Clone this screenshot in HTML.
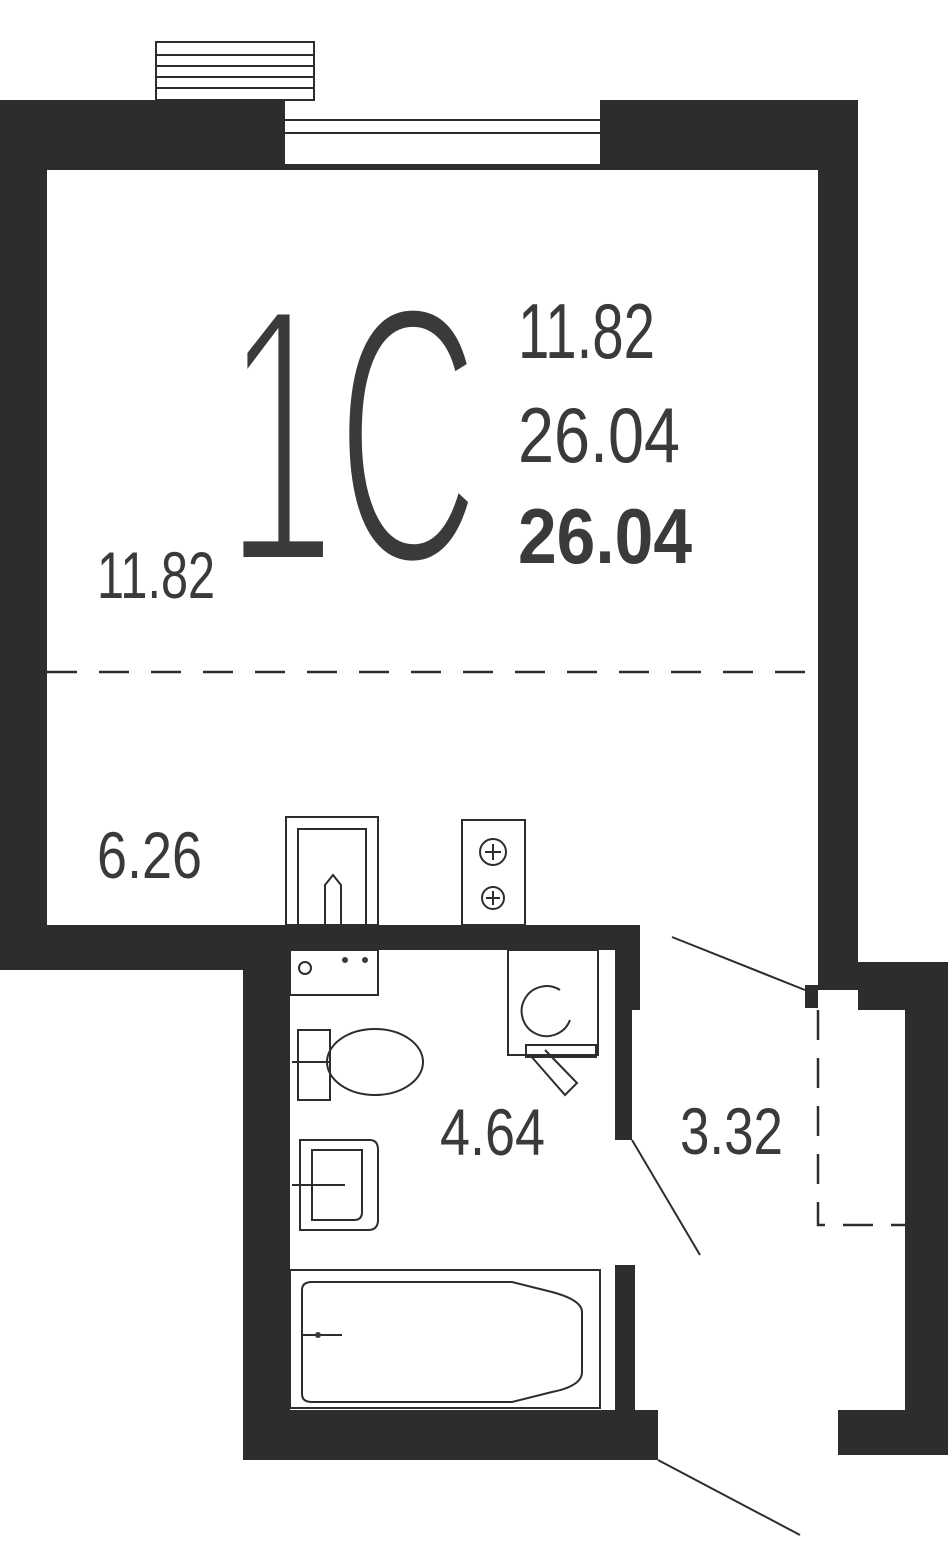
<!DOCTYPE html>
<html><head><meta charset="utf-8"><style>
html,body{margin:0;padding:0;background:#fff;}
svg{display:block}
text{font-family:"Liberation Sans Narrow","Liberation Sans",sans-serif;fill:#3a3a3c}
</style></head><body>
<svg width="950" height="1561" viewBox="0 0 950 1561" xmlns="http://www.w3.org/2000/svg">
<g fill="#2d2d2f">
<rect x="0" y="100" width="858" height="70"/>
<rect x="0" y="100" width="47" height="870"/>
<rect x="0" y="925" width="290" height="45"/>
<rect x="243" y="925" width="397" height="25"/>
<rect x="818" y="100" width="40" height="890"/>
<rect x="858" y="962" width="90" height="48"/>
<rect x="905" y="962" width="43" height="490"/>
<rect x="838" y="1410" width="110" height="45"/>
<rect x="243" y="925" width="47" height="535"/>
<rect x="243" y="1410" width="415" height="50"/>
<rect x="615" y="925" width="25" height="85"/>
<rect x="615" y="1005" width="17" height="135"/>
<rect x="615" y="1265" width="20" height="145"/>
<rect x="805" y="985" width="13" height="23"/>
</g>
<rect x="285" y="100" width="315" height="66" fill="#fff"/>
<g stroke="#2d2d2f" stroke-width="2" fill="none">
<line x1="285" y1="120" x2="600" y2="120"/>
<line x1="285" y1="133" x2="600" y2="133"/>
<line x1="285" y1="165" x2="600" y2="165"/>
<rect x="156" y="42" width="158" height="58"/>
<line x1="156" y1="55" x2="314" y2="55"/><line x1="156" y1="66" x2="314" y2="66"/>
<line x1="156" y1="77" x2="314" y2="77"/><line x1="156" y1="88" x2="314" y2="88"/>
<line x1="47" y1="672" x2="818" y2="672" stroke-dasharray="30,22" stroke-width="2.5"/>
<path d="M818 1010 V1225 H905" stroke-dasharray="30,18" stroke-width="2.5"/>
<line x1="672" y1="937" x2="805" y2="990"/>
<line x1="632" y1="1140" x2="700" y2="1255"/>
<line x1="658" y1="1460" x2="800" y2="1535"/>
<rect x="286" y="817" width="92" height="108"/>
<rect x="298" y="829" width="68" height="96"/>
<path d="M325 925 V885 L333 875 L341 885 V925"/>
<rect x="462" y="820" width="63" height="105"/>
<circle cx="493" cy="852" r="13"/><circle cx="493" cy="898" r="11"/>
<path d="M485 852h16M493 844v16M486 898h14M493 891v14"/>
<rect x="290" y="950" width="88" height="45"/>
<circle cx="305" cy="968" r="6"/>
<rect x="508" y="950" width="90" height="105"/>
<path d="M560 990 A25 25 0 1 0 570 1020"/>
<path d="M526 1045h70v12h-70z"/>
<path d="M530 1055 L565 1095 L577 1083 L545 1050"/>
<path d="M298 1030 h32 v70 h-32z"/>
<ellipse cx="375" cy="1062" rx="48" ry="33"/>
<line x1="292" y1="1062" x2="330" y2="1062"/>
<path d="M300 1140 h70 q8 0 8 10 v70 q0 10 -10 10 h-68z"/>
<path d="M312 1150 h50 v62 q0 8 -8 8 h-42z"/>
<line x1="292" y1="1185" x2="345" y2="1185"/>
<rect x="290" y="1270" width="310" height="138"/>
<path d="M302 1290 q0 -8 10 -8 h200 l40 10 q30 8 30 20 v60 q0 14 -30 20 l-40 10 h-200 q-10 0 -10 -8z"/>
<line x1="302" y1="1335" x2="342" y2="1335"/>
</g>
<g fill="#3a3a3c">
<circle cx="345" cy="960" r="3"/><circle cx="365" cy="960" r="3"/>
<circle cx="318" cy="1335" r="3"/>
</g>
<text x="225" y="563" font-size="370" textLength="255" lengthAdjust="spacingAndGlyphs" stroke="#fff" stroke-width="12">1C</text>
<text x="518" y="358" font-size="78" textLength="137" lengthAdjust="spacingAndGlyphs">11.82</text>
<text x="518" y="462" font-size="78" textLength="162" lengthAdjust="spacingAndGlyphs">26.04</text>
<text x="518" y="563" font-size="78" font-weight="bold" textLength="174" lengthAdjust="spacingAndGlyphs">26.04</text>
<text x="97" y="598" font-size="66" textLength="118" lengthAdjust="spacingAndGlyphs">11.82</text>
<text x="97" y="878" font-size="66" textLength="105" lengthAdjust="spacingAndGlyphs">6.26</text>
<text x="440" y="1155" font-size="66" textLength="105" lengthAdjust="spacingAndGlyphs">4.64</text>
<text x="680" y="1154" font-size="66" textLength="103" lengthAdjust="spacingAndGlyphs">3.32</text>
</svg>
</body></html>
